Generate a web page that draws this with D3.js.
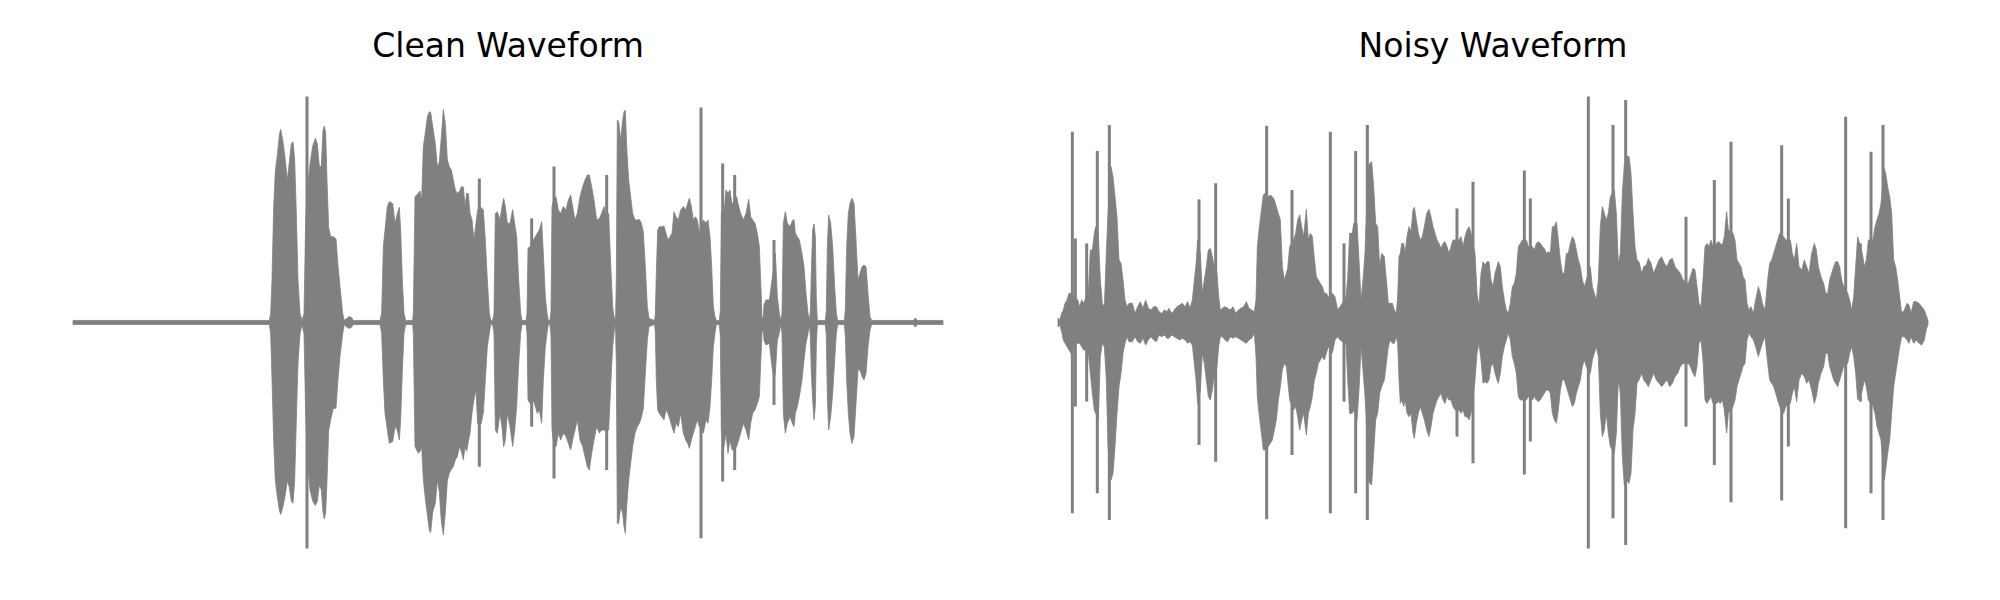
<!DOCTYPE html>
<html><head><meta charset="utf-8">
<script src="https://cdn.jsdelivr.net/npm/d3@7"></script>
<style>html,body{margin:0;padding:0;background:#fff;} svg{display:block;}</style>
</head><body><svg id="chart" width="2000" height="600"></svg>
<script>
// Titles of the two panels
const titles = ["Clean Waveform", "Noisy Waveform"];
// Time axis (ms) shared by both clips
const clipDuration = 2610;

// ---- Clean waveform: envelope (time ms, upper amplitude, lower amplitude) ----
const cleanTime = [0,589,593,597,602,607,613,619,623,629,636,643,649,655,660,665,670,675,681,687,693,698,703,711,719,727,733,739,745,750,754,758,762,767,773,781,789,795,801,809,814,819,827,835,841,921,926,931,936,943,949,959,966,973,979,983,988,993,998,1019,1021,1026,1036,1041,1046,1051,1057,1063,1069,1073,1079,1087,1093,1099,1105,1111,1117,1123,1129,1135,1141,1147,1153,1159,1165,1171,1176,1181,1186,1191,1197,1203,1209,1214,1224,1231,1237,1243,1249,1253,1259,1263,1267,1273,1281,1287,1292,1297,1303,1311,1319,1325,1331,1337,1343,1347,1359,1362,1365,1371,1376,1381,1387,1393,1399,1406,1411,1417,1422,1426,1431,1434,1437,1443,1449,1456,1463,1471,1479,1486,1493,1499,1506,1513,1521,1529,1536,1543,1549,1556,1563,1571,1579,1586,1593,1601,1607,1613,1619,1623,1626,1628,1630,1633,1637,1643,1649,1653,1657,1661,1667,1673,1679,1686,1693,1699,1705,1711,1717,1723,1728,1745,1747,1750,1754,1759,1766,1773,1779,1785,1791,1797,1803,1809,1816,1823,1831,1838,1844,1849,1855,1861,1867,1873,1879,1891,1899,1905,1911,1916,1921,1926,1930,1939,1942,1945,1949,1953,1959,1965,1971,1977,1985,1991,1997,2003,2011,2019,2027,2033,2039,2046,2053,2059,2063,2067,2071,2073,2079,2089,2097,2103,2107,2113,2119,2123,2127,2131,2137,2143,2151,2158,2163,2167,2173,2179,2187,2193,2199,2205,2209,2212,2215,2219,2223,2227,2230,2233,2257,2260,2263,2267,2273,2279,2285,2290,2294,2314,2317,2321,2326,2331,2337,2343,2349,2355,2361,2367,2373,2379,2385,2391,2396,2521,2527,2533,2610];
const cleanUpper = [.009,.009,.04,.19,.51,.67,.74,.83,.855,.81,.73,.63,.71,.79,.80,.72,.48,.19,.04,.009,.04,.45,.59,.70,.78,.815,.79,.69,.69,.85,.87,.84,.63,.42,.38,.38,.37,.25,.16,.04,.009,.014,.026,.023,.009,.009,.041,.336,.409,.513,.535,.527,.439,.483,.51,.409,.188,.041,.009,.009,.041,.557,.572,.582,.542,.778,.84,.91,.933,.93,.87,.79,.69,.71,.82,.943,.88,.72,.69,.675,.631,.586,.572,.579,.601,.60,.513,.572,.57,.483,.454,.365,.44,.50,.51,.498,.365,.188,.041,.009,.009,.041,.483,.49,.454,.513,.549,.513,.439,.439,.50,.439,.38,.188,.041,.009,.009,.041,.328,.336,.34,.365,.38,.395,.409,.446,.306,.114,.041,.009,.009,.05,.513,.55,.557,.498,.483,.513,.498,.542,.564,.513,.454,.483,.557,.601,.631,.653,.653,.601,.542,.454,.46,.483,.513,.45,.483,.262,.07,.026,.009,.04,.188,.896,.889,.808,.896,.933,.94,.778,.631,.557,.483,.454,.454,.456,.44,.40,.247,.07,.018,.009,.041,.218,.409,.424,.424,.427,.395,.365,.38,.395,.49,.468,.454,.498,.513,.498,.527,.55,.513,.454,.468,.454,.40,.454,.439,.454,.38,.247,.07,.026,.009,.009,.05,.483,.50,.483,.586,.572,.586,.52,.55,.557,.513,.483,.454,.483,.545,.468,.454,.439,.395,.336,.188,.026,.02,.08,.10,.10,.188,.25,.306,.114,.041,.009,.041,.439,.49,.439,.424,.45,.456,.395,.38,.365,.306,.247,.129,.041,.009,.05,.218,.409,.436,.38,.10,.009,.009,.05,.336,.476,.439,.336,.159,.041,.009,.009,.06,.336,.483,.527,.55,.527,.365,.188,.218,.247,.254,.247,.129,.026,.009,.009,.02,.009,.009];
const cleanLower = [-.009,-.009,-.05,-.25,-.52,-.70,-.77,-.83,-.85,-.82,-.77,-.70,-.73,-.79,-.80,-.70,-.43,-.18,-.05,-.009,-.05,-.40,-.62,-.74,-.79,-.81,-.79,-.72,-.74,-.84,-.87,-.84,-.70,-.48,-.43,-.38,-.38,-.25,-.15,-.05,-.009,-.018,-.026,-.022,-.009,-.009,-.048,-.254,-.402,-.476,-.535,-.527,-.461,-.476,-.52,-.431,-.21,-.048,-.009,-.009,-.048,-.549,-.579,-.57,-.549,-.697,-.78,-.85,-.92,-.93,-.84,-.80,-.70,-.75,-.88,-.94,-.84,-.70,-.667,-.65,-.638,-.608,-.594,-.55,-.57,-.608,-.55,-.57,-.527,-.49,-.40,-.34,-.30,-.45,-.45,-.40,-.254,-.107,-.048,-.009,-.009,-.048,-.476,-.49,-.402,-.461,-.549,-.52,-.402,-.461,-.549,-.476,-.372,-.181,-.048,-.009,-.009,-.048,-.343,-.358,-.36,-.343,-.372,-.402,-.387,-.446,-.254,-.107,-.048,-.009,-.009,-.06,-.476,-.55,-.549,-.49,-.52,-.49,-.505,-.535,-.564,-.52,-.476,-.431,-.52,-.549,-.594,-.638,-.653,-.579,-.52,-.461,-.49,-.476,-.476,-.48,-.476,-.284,-.107,-.048,-.009,-.05,-.181,-.889,-.889,-.815,-.844,-.903,-.933,-.815,-.697,-.623,-.549,-.49,-.461,-.446,-.42,-.38,-.225,-.077,-.018,-.009,-.048,-.254,-.387,-.402,-.417,-.431,-.387,-.402,-.431,-.461,-.49,-.446,-.461,-.402,-.49,-.52,-.535,-.557,-.52,-.49,-.461,-.431,-.461,-.49,-.431,-.446,-.372,-.254,-.107,-.048,-.009,-.009,-.06,-.476,-.50,-.549,-.49,-.579,-.52,-.564,-.56,-.549,-.52,-.49,-.446,-.476,-.52,-.446,-.402,-.387,-.358,-.328,-.181,-.048,-.03,-.08,-.10,-.092,-.195,-.25,-.225,-.077,-.048,-.009,-.048,-.402,-.49,-.446,-.417,-.446,-.461,-.402,-.372,-.328,-.254,-.166,-.092,-.048,-.009,-.06,-.225,-.343,-.431,-.372,-.10,-.009,-.009,-.06,-.328,-.476,-.417,-.313,-.166,-.048,-.009,-.009,-.06,-.254,-.402,-.49,-.535,-.505,-.358,-.21,-.21,-.24,-.254,-.225,-.107,-.033,-.009,-.009,-.02,-.009,-.009];
// Clean waveform: isolated sharp peaks
const cleanSpikeTime  = [702,1219,1376,1443,1601,1884,1949,1985,2103];
const cleanSpikeUpper = [1.0,.637,.461,.69,.653,.952,.704,.653,.365];
const cleanSpikeLower = [-1.0,-.638,-.461,-.69,-.653,-.955,-.704,-.653,-.365];

// ---- Noisy waveform: envelope ----
const noisyTime = [0,5,11,16,21,27,33,39,46,52,59,65,71,77,81,91,97,103,109,113,121,127,133,139,145,150,159,165,171,177,183,189,195,201,207,213,223,231,239,247,255,263,271,279,287,295,303,311,319,327,333,341,349,357,365,373,381,389,396,403,409,414,419,427,433,439,445,451,457,463,467,477,482,487,493,501,509,517,525,533,541,549,557,565,573,581,589,594,598,603,609,616,621,631,637,643,649,655,661,667,673,679,685,689,695,707,713,719,725,731,737,745,751,757,763,769,775,781,787,793,799,805,811,823,831,839,846,853,864,869,875,883,887,897,903,909,915,921,924,931,935,941,947,953,959,965,971,979,985,991,997,1003,1009,1015,1019,1023,1027,1031,1037,1041,1047,1053,1059,1065,1069,1075,1081,1087,1093,1099,1106,1113,1119,1125,1131,1137,1143,1149,1155,1161,1167,1173,1179,1185,1191,1203,1209,1215,1221,1227,1233,1239,1251,1257,1263,1269,1275,1281,1287,1293,1299,1305,1311,1317,1321,1327,1333,1339,1345,1351,1357,1363,1369,1375,1381,1387,1393,1405,1411,1423,1429,1435,1441,1447,1453,1459,1465,1471,1477,1483,1489,1495,1501,1507,1513,1519,1525,1531,1537,1543,1549,1555,1561,1567,1573,1579,1585,1597,1603,1609,1615,1621,1627,1633,1639,1645,1651,1657,1669,1675,1681,1687,1693,1699,1706,1713,1719,1725,1731,1737,1743,1751,1757,1765,1771,1779,1787,1795,1803,1811,1819,1827,1835,1843,1851,1859,1867,1875,1891,1897,1905,1911,1917,1923,1929,1935,1941,1947,1953,1959,1965,1975,1981,1987,1993,1999,2006,2011,2025,2031,2037,2043,2049,2055,2061,2067,2073,2079,2086,2093,2101,2107,2113,2121,2129,2135,2141,2147,2153,2159,2165,2177,2183,2197,2203,2209,2216,2223,2231,2239,2246,2253,2261,2269,2275,2281,2289,2297,2303,2309,2315,2321,2327,2333,2339,2345,2351,2357,2369,2375,2381,2387,2393,2399,2413,2419,2425,2431,2445,2451,2457,2463,2469,2479,2483,2489,2495,2501,2507,2513,2519,2525,2531,2539,2547,2553,2559,2567,2575,2583,2591,2599,2605,2610];
const noisyUpper = [.02,.01,.041,.055,.085,.10,.129,.129,.114,.11,.10,.07,.10,.085,.10,.129,.321,.321,.395,.424,.38,.188,.085,.07,.306,.483,.69,.645,.557,.468,.277,.262,.188,.10,.07,.085,.085,.04,.07,.092,.063,.10,.063,.055,.07,.07,.048,.04,.055,.048,.063,.04,.055,.07,.077,.085,.07,.092,.063,.10,.188,.254,.365,.306,.129,.188,.247,.321,.328,.291,.262,.218,.114,.055,.063,.07,.063,.055,.07,.041,.055,.063,.07,.092,.063,.055,.048,.10,.336,.409,.483,.564,.572,.557,.564,.557,.542,.513,.483,.454,.247,.188,.218,.24,.336,.365,.395,.454,.476,.424,.38,.501,.365,.395,.38,.284,.203,.188,.173,.159,.129,.129,.114,.129,.114,.055,.07,.085,.114,.195,.395,.395,.439,.439,.277,.10,.188,.306,.439,.69,.704,.712,.601,.439,.424,.247,.306,.291,.188,.085,.085,.085,.055,.041,.114,.291,.306,.35,.35,.306,.38,.424,.402,.498,.51,.454,.395,.365,.38,.424,.483,.501,.468,.424,.395,.365,.35,.328,.35,.358,.336,.306,.336,.365,.365,.365,.38,.336,.38,.409,.424,.395,.306,.129,.07,.218,.269,.254,.269,.269,.188,.159,.218,.247,.269,.247,.159,.10,.055,.041,.085,.159,.173,.218,.336,.35,.365,.365,.336,.336,.321,.35,.358,.35,.336,.328,.306,.313,.306,.424,.424,.446,.365,.277,.218,.218,.306,.306,.35,.38,.365,.321,.277,.247,.188,.159,.188,.247,.159,.129,.10,.188,.424,.513,.483,.454,.483,.557,.586,.483,.262,.306,.572,.70,.735,.735,.66,.483,.336,.277,.269,.218,.247,.254,.284,.262,.218,.247,.277,.291,.262,.247,.277,.284,.247,.232,.218,.188,.173,.203,.24,.232,.159,.085,.07,.188,.336,.35,.336,.365,.336,.35,.358,.35,.343,.38,.49,.409,.395,.365,.277,.262,.247,.203,.188,.085,.055,.07,.04,.10,.159,.129,.085,.055,.188,.262,.277,.306,.336,.365,.395,.38,.365,.365,.306,.277,.35,.247,.232,.277,.247,.218,.306,.35,.321,.247,.203,.173,.129,.129,.188,.218,.247,.269,.269,.247,.188,.159,.129,.10,.055,.114,.247,.38,.306,.247,.277,.365,.365,.424,.454,.483,.527,.682,.66,.601,.557,.483,.277,.247,.188,.114,.041,.055,.085,.077,.041,.092,.092,.085,.07,.055,.03,.01];
const noisyLower = [-.02,-.01,-.041,-.077,-.092,-.107,-.122,-.136,-.107,-.10,-.092,-.092,-.107,-.122,-.12,-.136,-.225,-.313,-.387,-.402,-.431,-.151,-.092,-.107,-.254,-.549,-.697,-.667,-.549,-.402,-.284,-.225,-.136,-.092,-.063,-.085,-.085,-.063,-.085,-.092,-.07,-.10,-.077,-.063,-.077,-.085,-.055,-.063,-.055,-.07,-.07,-.055,-.063,-.07,-.077,-.07,-.077,-.092,-.085,-.10,-.181,-.254,-.358,-.299,-.136,-.181,-.254,-.328,-.343,-.299,-.254,-.195,-.107,-.063,-.063,-.077,-.085,-.063,-.07,-.063,-.07,-.077,-.085,-.092,-.077,-.07,-.048,-.15,-.328,-.402,-.476,-.564,-.564,-.549,-.535,-.52,-.476,-.431,-.343,-.284,-.21,-.181,-.195,-.254,-.343,-.387,-.372,-.417,-.476,-.431,-.402,-.498,-.402,-.372,-.328,-.254,-.225,-.181,-.166,-.151,-.166,-.136,-.107,-.136,-.077,-.063,-.077,-.085,-.092,-.25,-.402,-.402,-.387,-.431,-.299,-.107,-.21,-.328,-.402,-.697,-.712,-.719,-.579,-.431,-.402,-.313,-.284,-.254,-.181,-.107,-.077,-.092,-.092,-.063,-.092,-.254,-.358,-.343,-.372,-.343,-.402,-.417,-.402,-.49,-.513,-.446,-.402,-.372,-.402,-.431,-.476,-.505,-.461,-.402,-.372,-.343,-.328,-.313,-.343,-.358,-.328,-.343,-.343,-.372,-.387,-.387,-.402,-.387,-.417,-.417,-.431,-.402,-.254,-.136,-.092,-.166,-.269,-.262,-.269,-.254,-.195,-.181,-.225,-.254,-.269,-.225,-.151,-.107,-.077,-.048,-.077,-.151,-.181,-.225,-.328,-.343,-.343,-.343,-.328,-.343,-.328,-.343,-.35,-.343,-.328,-.313,-.299,-.299,-.313,-.402,-.431,-.446,-.387,-.299,-.254,-.254,-.284,-.313,-.343,-.372,-.358,-.313,-.284,-.254,-.195,-.166,-.195,-.225,-.166,-.136,-.107,-.151,-.402,-.505,-.476,-.402,-.49,-.549,-.579,-.49,-.254,-.313,-.594,-.72,-.697,-.712,-.667,-.476,-.402,-.269,-.254,-.225,-.254,-.269,-.284,-.254,-.225,-.254,-.269,-.284,-.269,-.254,-.284,-.269,-.24,-.225,-.195,-.181,-.181,-.195,-.225,-.24,-.195,-.092,-.077,-.166,-.343,-.358,-.343,-.328,-.358,-.358,-.35,-.358,-.343,-.387,-.49,-.402,-.372,-.343,-.284,-.254,-.225,-.195,-.181,-.077,-.048,-.063,-.077,-.107,-.151,-.122,-.092,-.063,-.181,-.254,-.269,-.284,-.313,-.343,-.372,-.402,-.372,-.358,-.313,-.284,-.35,-.254,-.225,-.24,-.269,-.254,-.299,-.358,-.328,-.269,-.225,-.195,-.136,-.136,-.195,-.225,-.254,-.269,-.284,-.254,-.225,-.195,-.181,-.136,-.107,-.151,-.225,-.343,-.299,-.254,-.284,-.343,-.372,-.402,-.461,-.49,-.52,-.697,-.653,-.579,-.52,-.402,-.284,-.225,-.166,-.107,-.063,-.063,-.077,-.092,-.063,-.092,-.077,-.092,-.10,-.077,-.03,-.01];
// Noisy waveform: isolated sharp peaks (clicks)
const noisySpikeTime  = [43,52,86,118,154,423,473,626,702,817,858,893,928,1197,1245,1399,1417,1591,1665,1703,1884,1969,2019,2171,2191,2363,2407,2439,2475];
const noisySpikeUpper = [.844,.372,.35,.759,.874,.545,.616,.871,.586,.844,.35,.759,.874,.505,.623,.673,.549,1.0,.874,.985,.468,.631,.80,.785,.549,.911,.35,.756,.874];
const noisySpikeLower = [-.844,-.372,-.35,-.756,-.874,-.542,-.616,-.871,-.586,-.844,-.35,-.756,-.874,-.505,-.623,-.673,-.527,-1.0,-.867,-.985,-.461,-.631,-.796,-.788,-.549,-.911,-.35,-.756,-.874,];

// ---------------- drawing ----------------
const W = 2000, H = 600;
const color = "#808080";
const svg = d3.select("#chart");
svg.append("rect").attr("width", W).attr("height", H).attr("fill", "#ffffff");

const panels = [
  {title: titles[0], time: cleanTime, upper: cleanUpper, lower: cleanLower,
   st: cleanSpikeTime, su: cleanSpikeUpper, sl: cleanSpikeLower, left: 25},
  {title: titles[1], time: noisyTime, upper: noisyUpper, lower: noisyLower,
   st: noisySpikeTime, su: noisySpikeUpper, sl: noisySpikeLower, left: 1010}
];
const axW = 966, xPad = 48, axTop = 74, axBottom = 571;

panels.forEach(p => {
  const x = d3.scaleLinear().domain([0, clipDuration]).range([p.left + xPad, p.left + axW - xPad]);
  const y = d3.scaleLinear().domain([-1.1, 1.1]).range([axBottom, axTop]);
  const g = svg.append("g");
  const pts = p.time.map((t, i) => ({t, hi: p.upper[i], lo: p.lower[i]}));
  const area = d3.area().x(d => x(d.t)).y0(d => y(d.lo)).y1(d => y(d.hi));
  g.append("path").datum(pts).attr("d", area)
    .attr("fill", color).attr("stroke", color).attr("stroke-width", 0.8)
    .attr("stroke-linejoin", "round");
  const spikes = p.st.map((t, i) => ({t, hi: p.su[i], lo: p.sl[i]}));
  g.selectAll("line.spike").data(spikes).join("line").attr("class", "spike")
    .attr("x1", d => x(d.t)).attr("x2", d => x(d.t))
    .attr("y1", d => y(d.hi)).attr("y2", d => y(d.lo))
    .attr("stroke", color).attr("stroke-width", 3);
  svg.append("text")
    .attr("x", p.left + axW / 2).attr("y", 57)
    .attr("text-anchor", "middle")
    .attr("font-family", "DejaVu Sans").attr("font-size", 33)
    .attr("fill", "#000").text(p.title);
});
</script>
</body></html>
